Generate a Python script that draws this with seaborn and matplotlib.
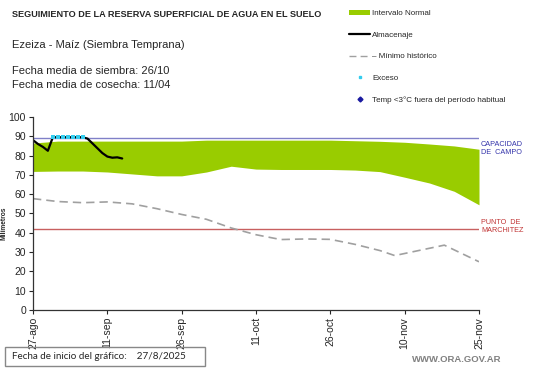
import numpy as np
import pandas as pd
import matplotlib
matplotlib.use("Agg")
import matplotlib.pyplot as plt
from matplotlib.lines import Line2D
from matplotlib.patches import Patch, Rectangle
import seaborn as sns

# -------------------------
# Datos (días desde 27/8/2025)
# -------------------------
banda_dias = [0, 5, 10, 15, 20, 25, 30, 35, 40, 45, 50, 55, 60, 65, 70, 75, 80, 85, 90]
banda_sup = [86.5, 87.5, 87.5, 87.5, 87.5, 87.5, 87.5, 88, 88, 88, 88, 88, 88, 87.7, 87.4, 86.9, 86.0, 85.0, 83.3]
banda_inf = [71.8, 72.0, 72.0, 71.5, 70.5, 69.5, 69.5, 71.5, 74.5, 73.0, 72.8, 72.8, 72.8, 72.5, 71.7, 68.8, 65.8, 61.5, 54.5]

alm_dias = list(range(0, 19))
alm_valores = [88, 86, 84.5, 82.5, 89.5, 89.5, 89.5, 89.5, 89.5, 89.5, 89.5, 88.8,
               86.3, 83.8, 81.3, 79.5, 78.9, 79.1, 78.5]

exceso_dias = [4, 5, 6, 7, 8, 9, 10]
exceso_valores = [89.5, 89.5, 89.5, 89.5, 89.5, 89.5, 89.5]

min_dias = [0, 5, 10, 15, 20, 25, 30, 35, 40, 45, 50, 55, 60, 65, 70, 73, 83, 90]
min_valores = [57.7, 56.2, 55.6, 56.0, 55.0, 52.5, 49.5, 47.0, 42.5, 39.0, 36.5, 36.8, 36.6, 34.0, 30.8, 28.2, 33.6, 25.0]

capacidad_campo = 89
punto_marchitez = 42

tick_dias = [0, 15, 30, 45, 60, 75, 90]
tick_etiquetas = ["27-ago", "11-sep", "26-sep", "11-oct", "26-oct", "10-nov", "25-nov"]

df_alm = pd.DataFrame({"dia": alm_dias, "mm": alm_valores})
df_min = pd.DataFrame({"dia": min_dias, "mm": min_valores})
df_exc = pd.DataFrame({"dia": exceso_dias, "mm": exceso_valores})

# -------------------------
# Estilo
# -------------------------
sns.set_theme(style="white")
plt.rcParams["font.family"] = ["Liberation Sans", "DejaVu Sans"]

fig = plt.figure(figsize=(5.41, 3.68), dpi=100)
ax = fig.add_axes([0.061, 0.1576, 0.8244, 0.5245])

verde = "#99cc00"
ax.fill_between(banda_dias, banda_inf, banda_sup, color=verde, lw=0)

ax.axhline(capacidad_campo, color="#8080c8", lw=1.0)
ax.axhline(punto_marchitez, color="#c86060", lw=1.0)

sns.lineplot(data=df_min, x="dia", y="mm", ax=ax, color="#a0a0a0", lw=1.2,
             linestyle=(0, (5, 3)))
sns.lineplot(data=df_alm, x="dia", y="mm", ax=ax, color="black", lw=1.6)
sns.scatterplot(data=df_exc, x="dia", y="mm", ax=ax, color="#33ccee", s=5,
                marker="s", linewidth=0, zorder=5)

ax.set_xlim(0, 90)
ax.set_ylim(0, 100)
ax.set_xticks(tick_dias)
ax.set_xticklabels(tick_etiquetas, rotation=90, fontsize=7.5)
ax.set_yticks(range(0, 101, 10))
ax.tick_params(axis="y", labelsize=7.5, length=3, width=0.8, direction="out", left=True, pad=2)
ax.tick_params(axis="x", length=3, width=0.8, direction="out", bottom=True, pad=2)
ax.set_xlabel("")
ax.set_ylabel("Milímetros", fontsize=4.8, fontweight="bold")
ax.yaxis.set_label_coords(-0.058, 0.45)
for s in ["top", "right"]:
    ax.spines[s].set_visible(False)
for s in ["left", "bottom"]:
    ax.spines[s].set_color("#333333")
    ax.spines[s].set_linewidth(0.9)

# etiquetas a la derecha
ax.text(90.4, capacidad_campo - 5.5, "CAPACIDAD\nDE  CAMPO", color="#3333aa",
        fontsize=5.2, va="center", ha="left", linespacing=1.2, clip_on=False)
ax.text(90.4, punto_marchitez + 1.5, "PUNTO  DE\nMARCHITEZ", color="#c03333",
        fontsize=5.2, va="center", ha="left", linespacing=1.2, clip_on=False)

# -------------------------
# Textos
# -------------------------
fig.text(0.022, 0.960, "SEGUIMIENTO DE LA RESERVA SUPERFICIAL DE AGUA EN EL SUELO",
         fontsize=6.6, fontweight="bold", va="center", ha="left")
fig.text(0.022, 0.878, "Ezeiza - Maíz (Siembra Temprana)", fontsize=8, va="center", ha="left")
fig.text(0.022, 0.808, "Fecha media de siembra: 26/10", fontsize=8, va="center", ha="left")
fig.text(0.022, 0.770, "Fecha media de cosecha: 11/04", fontsize=8, va="center", ha="left")

handles = [
    Patch(facecolor=verde, edgecolor="none"),
    Line2D([], [], color="black", lw=1.6),
    Line2D([], [], color="#a0a0a0", lw=1.0, linestyle=(0, (5, 3))),
    Line2D([], [], color="#33ccee", marker="s", markersize=2, lw=0),
    Line2D([], [], color="#1a1aa0", marker="D", markersize=2.5, lw=0),
]
labels = ["Intervalo Normal", "Almacenaje", "– Mínimo histórico", "Exceso",
          "Temp <3°C fuera del período habitual"]
fig.legend(handles, labels, loc="upper left", bbox_to_anchor=(0.64, 0.982),
           frameon=False, fontsize=5.8, handlelength=2.6, handleheight=0.6,
           handletextpad=0.2, labelspacing=1.75, borderaxespad=0)

# recuadro de fecha de inicio
fig.add_artist(Rectangle((0.009, 0.005), 0.37, 0.053, transform=fig.transFigure,
                         fill=False, edgecolor="#888888", lw=1.0))
fig.text(0.022, 0.032, "Fecha de inicio del gráfico:    27/8/2025", fontsize=7.1,
         family=["Lato", "DejaVu Sans"], va="center", ha="left")
fig.text(0.845, 0.022, "WWW.ORA.GOV.AR", fontsize=6.8, fontweight="bold",
         color="#808080", va="center", ha="center")

fig.savefig("out.png", dpi=100)
